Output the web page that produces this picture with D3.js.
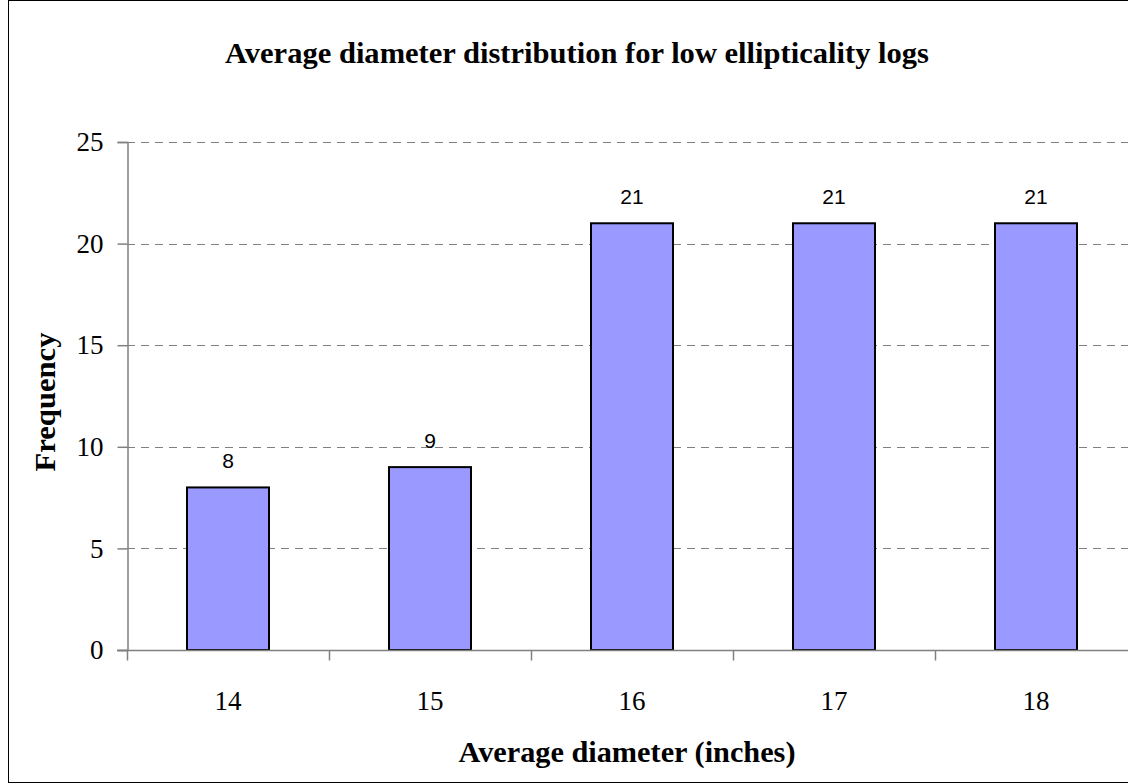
<!DOCTYPE html>
<html>
<head>
<meta charset="utf-8">
<script src="https://cdn.jsdelivr.net/npm/d3@7"></script>
<style>
  body { margin: 0; background: #fff; }
  svg { display: block; }
</style>
</head>
<body>
<div id="chart"></div>
<script>
const categories = ["14", "15", "16", "17", "18"];
const frequencies = [8, 9, 21, 21, 21];
const yTicks = [0, 5, 10, 15, 20, 25];

const width = 1128;
const height = 784;
const margin = { top: 142, left: 127, bottom: 134 };
const step = 202;
const serif = "'Liberation Serif', 'Times New Roman', serif";

const svg = d3
  .select("#chart")
  .append("svg")
  .attr("width", width)
  .attr("height", height);

// outer frame
svg
  .append("rect")
  .attr("x", 8.5)
  .attr("y", 0.5)
  .attr("width", width + 10)
  .attr("height", height - 2)
  .attr("fill", "none")
  .attr("stroke", "#000")
  .attr("stroke-width", 1);

const x = d3
  .scaleBand()
  .domain(categories)
  .range([margin.left, margin.left + step * categories.length])
  .paddingInner(0.594)
  .paddingOuter(0.297);

const y = d3
  .scaleLinear()
  .domain([0, 25])
  .range([height - margin.bottom, margin.top]);

// gridlines
svg
  .append("g")
  .selectAll("line")
  .data(yTicks.filter((d) => d > 0))
  .enter()
  .append("line")
  .attr("x1", margin.left)
  .attr("x2", width)
  .attr("y1", (d) => Math.round(y(d)) + 0.5)
  .attr("y2", (d) => Math.round(y(d)) + 0.5)
  .attr("stroke", "#808080")
  .attr("stroke-dasharray", "8,6");

// bars
svg
  .append("g")
  .selectAll("rect")
  .data(frequencies)
  .enter()
  .append("rect")
  .attr("x", (d, i) => x(categories[i]))
  .attr("y", (d) => y(d))
  .attr("width", x.bandwidth())
  .attr("height", (d) => y(0) - y(d))
  .attr("fill", "#9999FF")
  .attr("stroke", "#000")
  .attr("stroke-width", 2);

// value labels
svg
  .append("g")
  .selectAll("text")
  .data(frequencies)
  .enter()
  .append("text")
  .attr("x", (d, i) => x(categories[i]) + x.bandwidth() / 2)
  .attr("y", (d) => y(d) - 19)
  .attr("text-anchor", "middle")
  .style("font-family", "'Liberation Sans', Arial, sans-serif")
  .style("font-size", "21px")
  .text((d) => d);

// y axis
const yAxis = svg
  .append("g")
  .attr("transform", `translate(${margin.left + 0.5},0)`)
  .call(d3.axisLeft(y).tickValues(yTicks).tickSize(10).tickPadding(14));
yAxis.select(".domain").attr("stroke", "#808080").attr("stroke-width", 1.5);
yAxis.selectAll(".tick line").attr("stroke", "#808080").attr("stroke-width", 1.5);
yAxis
  .selectAll(".tick text")
  .style("font-family", serif)
  .style("font-size", "27px")
  .attr("fill", "#000");

// x axis
const xAxis = svg
  .append("g")
  .attr("transform", `translate(0,${y(0) + 0.5})`)
  .call(d3.axisBottom(x).tickSize(0).tickPadding(40));
xAxis.select(".domain").remove();
xAxis
  .append("line")
  .attr("x1", margin.left - 10)
  .attr("x2", width)
  .attr("stroke", "#808080")
  .attr("stroke-width", 1.5);
xAxis
  .selectAll(".sep")
  .data(d3.range(categories.length + 1))
  .enter()
  .append("line")
  .attr("x1", (i) => margin.left + i * step + 0.5)
  .attr("x2", (i) => margin.left + i * step + 0.5)
  .attr("y1", 0)
  .attr("y2", 10)
  .attr("stroke", "#808080")
  .attr("stroke-width", 1.5);
xAxis
  .selectAll(".tick text")
  .style("font-family", serif)
  .style("font-size", "27px")
  .attr("fill", "#000");

// title
svg
  .append("text")
  .attr("x", 577)
  .attr("y", 63)
  .attr("text-anchor", "middle")
  .attr("textLength", 704)
  .attr("lengthAdjust", "spacingAndGlyphs")
  .style("font-family", serif)
  .style("font-weight", "bold")
  .style("font-size", "30px")
  .text("Average diameter distribution for low ellipticality logs");

// axis titles
svg
  .append("text")
  .attr("x", 627)
  .attr("y", 762)
  .attr("text-anchor", "middle")
  .attr("textLength", 337)
  .attr("lengthAdjust", "spacingAndGlyphs")
  .style("font-family", serif)
  .style("font-weight", "bold")
  .style("font-size", "30px")
  .text("Average diameter (inches)");

svg
  .append("text")
  .attr("transform", "translate(55,402) rotate(-90)")
  .attr("text-anchor", "middle")
  .attr("textLength", 139)
  .attr("lengthAdjust", "spacingAndGlyphs")
  .style("font-family", serif)
  .style("font-weight", "bold")
  .style("font-size", "30px")
  .text("Frequency");
</script>
</body>
</html>
